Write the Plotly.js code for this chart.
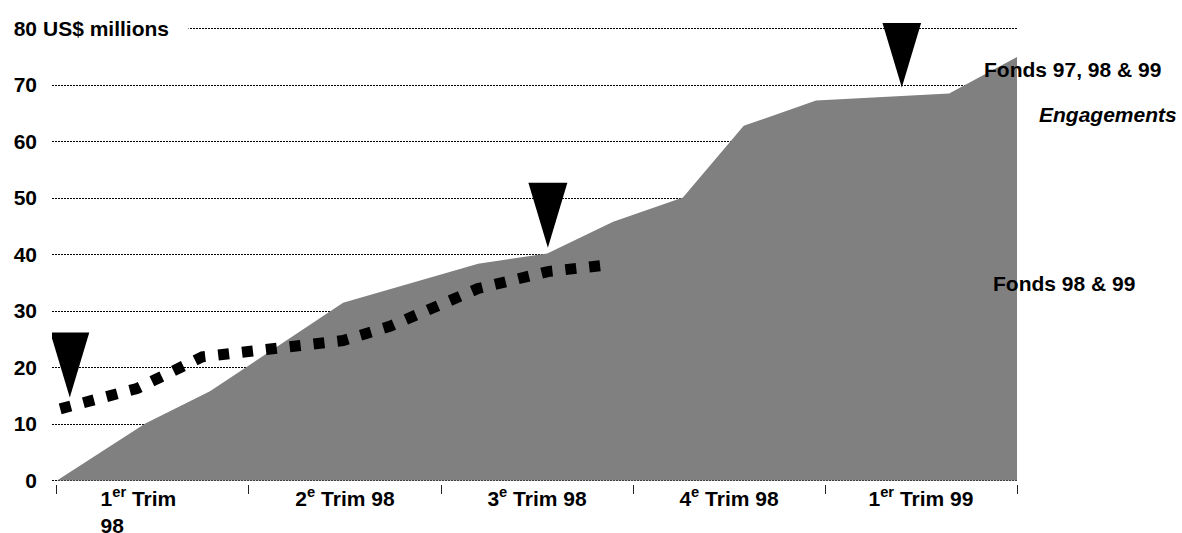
<!DOCTYPE html>
<html><head><meta charset="utf-8">
<script src="https://cdn.plot.ly/plotly-3.0.1.min.js"></script>
<style>html,body{margin:0;padding:0;background:#fff}#chart{width:1182px;height:533px}</style>
</head><body><div id="chart"></div>
<script>
// x positions are months counted from the start of the 1st quarter 1998
const NB = '\u00a0';
const quarterLabels = ['1<sup>er</sup> Trim' + NB.repeat(5) + '<br>98' + NB.repeat(14), '2<sup>e</sup> Trim 98', '3<sup>e</sup> Trim 98', '4<sup>e</sup> Trim 98', '1<sup>er</sup> Trim 99'];
const quarterCenters = [1.5, 4.5, 7.5, 10.5, 13.5];
const quarterBounds = [0, 3, 6, 9, 12, 15];
const yTicks = [0, 10, 20, 30, 40, 50, 60, 70, 80];

// Engagements, Fonds 97, 98 & 99 (grey area)
const commitMonths = [0, 1.38, 2.39, 4.47, 6.58, 7.66, 8.69, 9.78, 10.73, 11.86, 13.94, 15.0];
const commitValues = [0, 10.1, 15.8, 31.5, 38.4, 40.2, 45.8, 50.1, 62.8, 67.3, 68.5, 75.0];

// Fonds 98 & 99 (dotted line)
const fundMonths = [0.05, 1.25, 2.27, 4.47, 5.20, 6.58, 7.67, 8.53];
const fundValues = [12.7, 16.3, 21.9, 24.8, 27.3, 34.0, 37.0, 38.1];

// event markers (black triangles)
const eventMonths = [0.20, 7.67, 13.2];
const eventValues = [14.7, 41.2, 69.6];

const FONT = 'Liberation Sans, Arial, Helvetica, sans-serif';
const FS = 21;

const traces = [
  {x: commitMonths, y: commitValues, type: 'scatter', mode: 'lines', fill: 'tozeroy',
   fillcolor: '#808080', line: {width: 0, color: '#808080'}, hoverinfo: 'skip', showlegend: false},
  {x: fundMonths, y: fundValues, type: 'scatter', mode: 'lines',
   line: {width: 11, color: '#000', dash: '11px,13px'}, hoverinfo: 'skip', showlegend: false}
];

const shapes = eventMonths.map((m, i) => ({
  type: 'path', xref: 'x', yref: 'y', xsizemode: 'pixel', ysizemode: 'pixel',
  xanchor: m, yanchor: eventValues[i], path: 'M0,0 L-19.5,65 L19.5,65 Z',
  fillcolor: '#000', line: {width: 0}, layer: 'above'
}));

const bold = {family: FONT, size: FS, color: '#000', weight: 'bold'};

const layout = {
  width: 1182, height: 533,
  margin: {l: 52, r: 165, t: 23, b: 49},
  paper_bgcolor: '#fff', plot_bgcolor: '#fff',
  showlegend: false,
  font: bold,
  xaxis: {
    range: [-0.078, 15], tickmode: 'array', tickvals: quarterCenters, ticktext: quarterLabels,
    ticks: '', showgrid: false, zeroline: false, showline: false, tickfont: bold,
    minor: {tickmode: 'array', tickvals: quarterBounds, ticks: 'outside', ticklen: 9, tickwidth: 1, tickcolor: '#222', showgrid: false}
  },
  yaxis: {
    range: [-0.6, 81], tickmode: 'array', tickvals: yTicks, ticktext: yTicks.map(String),
    ticks: '', showgrid: true, gridcolor: '#000', gridwidth: 1, griddash: '2px,1px',
    zeroline: false, showline: false, tickfont: bold, ticklabelstandoff: 14
  },
  shapes: shapes,
  annotations: [
    {xref: 'paper', yref: 'y', x: -0.0104, y: 80, xanchor: 'left', yanchor: 'middle',
     text: 'US$ millions', showarrow: false, font: bold, bgcolor: '#fff', width: 145, align: 'left', borderpad: 0},
    {xref: 'paper', yref: 'paper', x: 0.9637, y: 0.899, xanchor: 'left', yanchor: 'middle',
     text: 'Fonds 97, 98 &amp; 99', showarrow: false, font: bold},
    {xref: 'paper', yref: 'paper', x: 1.0207, y: 0.801, xanchor: 'left', yanchor: 'middle',
     text: '<i>Engagements</i>', showarrow: false, font: bold},
    {xref: 'paper', yref: 'paper', x: 0.973, y: 0.4347, xanchor: 'left', yanchor: 'middle',
     text: 'Fonds 98 &amp; 99', showarrow: false, font: bold}
  ]
};

Plotly.newPlot('chart', traces, layout, {displayModeBar: false, staticPlot: true});
</script>
</body></html>
